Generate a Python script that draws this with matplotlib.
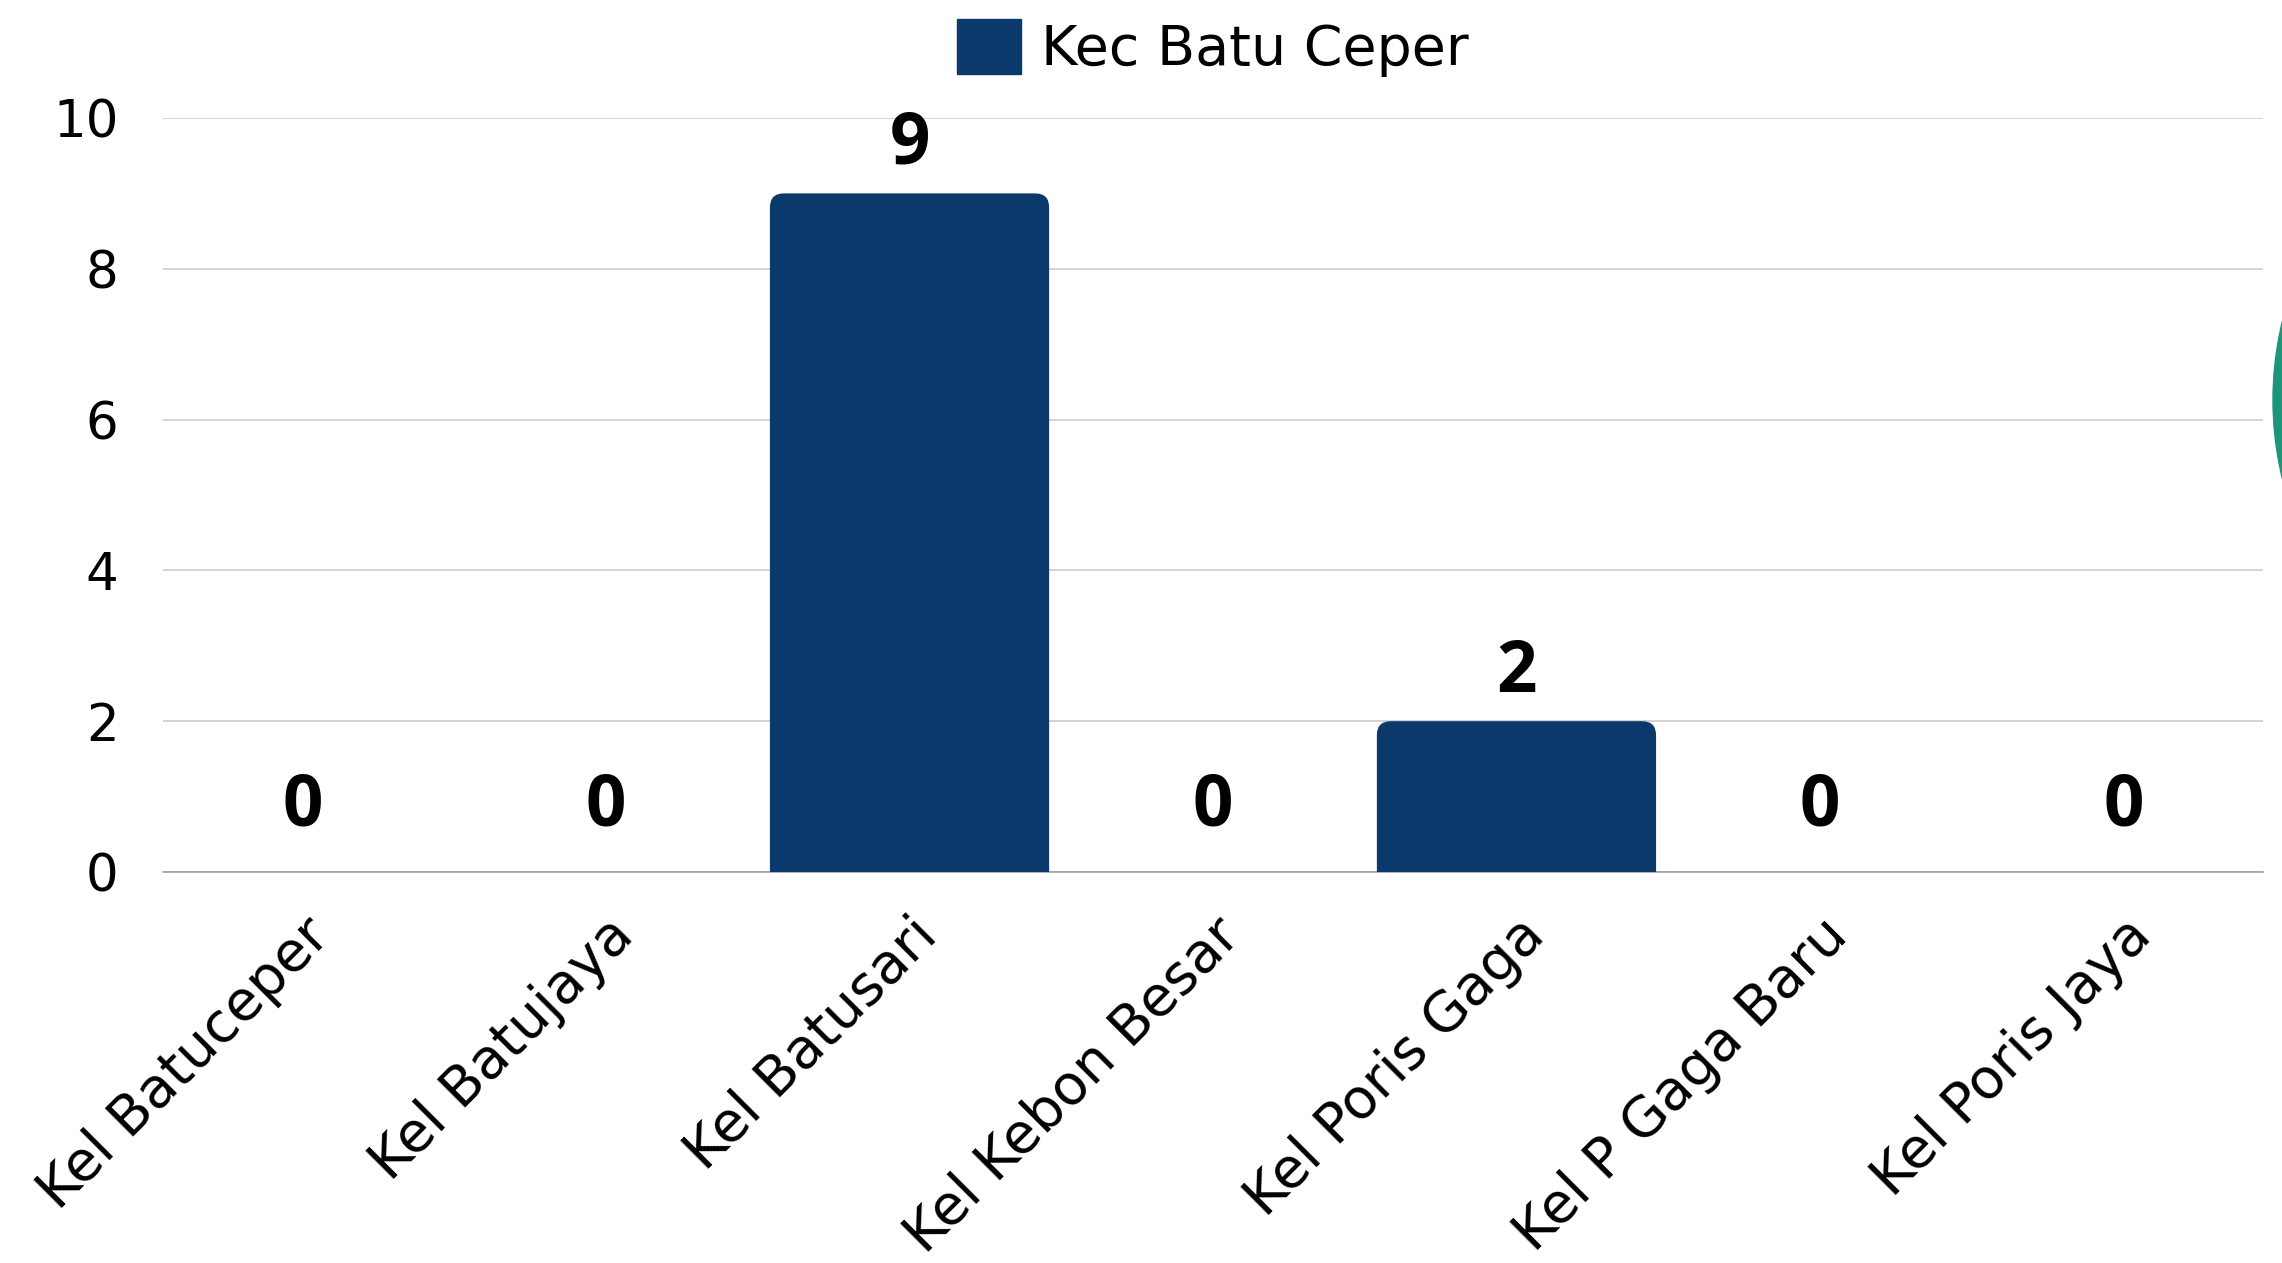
import matplotlib
matplotlib.use('Agg')
import matplotlib.pyplot as plt
from matplotlib.path import Path
from matplotlib.patches import PathPatch, Circle
from matplotlib.transforms import IdentityTransform

# Data
categories = ['Kel Batuceper', 'Kel Batujaya', 'Kel Batusari', 'Kel Kebon Besar',
              'Kel Poris Gaga', 'Kel P Gaga Baru', 'Kel Poris Jaya']
values = [0, 0, 9, 0, 2, 0, 0]
series_name = 'Kec Batu Ceper'
y_ticks = [0, 2, 4, 6, 8, 10]

bar_color = '#0b396b'
plt.rcParams['font.family'] = ['DejaVu Sans']
plt.rcParams['text.color'] = 'black'

fig = plt.figure(figsize=(22.82, 12.63), dpi=100)
ax = fig.add_axes([163 / 2282, 1 - 872 / 1263, 2100 / 2282, (872 - 118) / 1263])

x = list(range(len(categories)))
bars = ax.bar(x, values, width=0.92, color=bar_color, label=series_name, zorder=2)
ax.set_xlim(-0.46, len(categories) - 0.54)
ax.set_ylim(0, 10)

# Axis styling
ax.set_yticks(y_ticks)
ax.set_xticks(x)
ax.set_xticklabels(categories, rotation=45, ha='right', va='top', rotation_mode='anchor',
                   fontsize=40)
ax.tick_params(axis='y', length=0, pad=32, labelsize=37, labelcolor='black')
ax.tick_params(axis='x', length=0, pad=26, labelcolor='black')
ax.grid(axis='y', color='#c8c8c8', linewidth=1.1, zorder=0)
for side in ['top', 'right', 'left']:
    ax.spines[side].set_visible(False)
ax.spines['bottom'].set_color('#9a9a9a')
ax.spines['bottom'].set_linewidth(1.1)
ax.spines['bottom'].set_zorder(3)

# Replace bars with top-rounded versions (radius in pixels)
r = 14
for rect, v in zip(bars, values):
    rect.set_visible(False)
    if v <= 0:
        continue
    x0, y0 = ax.transData.transform((rect.get_x(), 0))
    x1, y1 = ax.transData.transform((rect.get_x() + rect.get_width(), v))
    verts = [(x0, y0), (x0, y1 - r), (x0, y1), (x0 + r, y1), (x1 - r, y1),
             (x1, y1), (x1, y1 - r), (x1, y0), (x0, y0)]
    codes = [Path.MOVETO, Path.LINETO, Path.CURVE3, Path.CURVE3, Path.LINETO,
             Path.CURVE3, Path.CURVE3, Path.LINETO, Path.CLOSEPOLY]
    fig.add_artist(PathPatch(Path(verts, codes), facecolor=bar_color, edgecolor='none',
                             transform=IdentityTransform(), zorder=2))

# Value labels
for xi, v in zip(x, values):
    off = 35 if v > 0 else 47
    ax.annotate(str(v), (xi, v), xytext=(0, off), textcoords='offset points',
                ha='center', va='center', fontsize=51, fontweight='bold',
                family=['Open Sans', 'DejaVu Sans'], color='black', zorder=4)

# Legend at the top
leg = fig.legend([plt.Rectangle((0, 0), 1, 1, color=bar_color)], [series_name],
                 loc='center', bbox_to_anchor=(1213 / 2282, 1 - 48 / 1263),
                 frameon=False, fontsize=40, handlelength=1.15, handleheight=1.15,
                 handletextpad=0.35, borderpad=0)

# Decorative teal circle peeking in at the right edge
fig.add_artist(Circle((2607, 1263 - 400), 334, color='#1e947c',
                      transform=IdentityTransform(), zorder=1))

fig.savefig('out.png', dpi=100)
